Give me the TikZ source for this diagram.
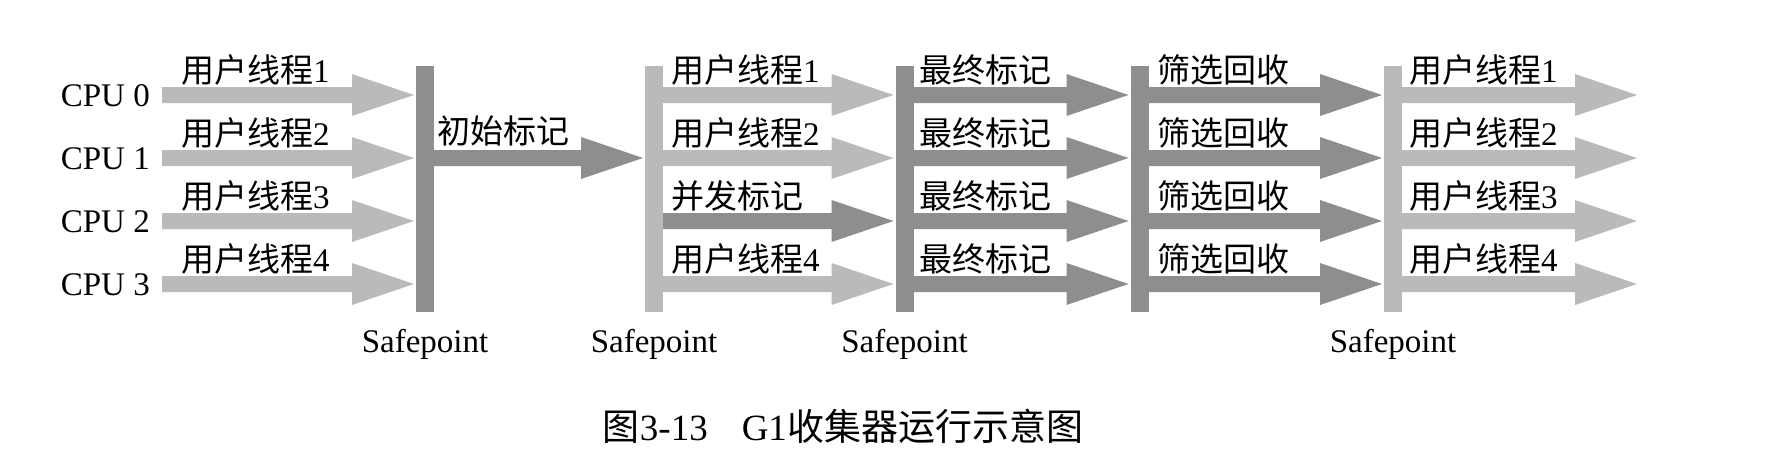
\documentclass[tikz,border=0pt]{standalone}
\usepackage{fontspec}
\setmainfont{Liberation Serif}
\newfontfamily\cjk{Noto Sans CJK SC}
\usetikzlibrary{calc}
\definecolor{lt}{RGB}{186,186,186}
\definecolor{dk}{RGB}{142,142,142}
% block arrow from point #1 to (just before) point #2, colour #3
\newcommand\blockarrow[3]{%
  \path[fill=#3] let \p1=(#1), \p2=(#2) in
    (\x1,\y1+8pt) -- (\x2-64pt,\y1+8pt) -- (\x2-64pt,\y1+21pt) -- (\x2-2pt,\y1)
    -- (\x2-64pt,\y1-21pt) -- (\x2-64pt,\y1-8pt) -- (\x1,\y1-8pt) -- cycle;}
\begin{document}
\begin{tikzpicture}[x=1pt,y=-1pt,
  bar/.style={minimum width=18pt,minimum height=246pt,inner sep=0pt,outer sep=0pt,draw=none},
  lbl/.style={anchor=base west,inner sep=0pt,font=\fontsize{33}{36}\selectfont},
  cpu/.style={anchor=base east,inner sep=0pt,font=\fontsize{33}{36}\selectfont},
  sp/.style={anchor=base,inner sep=0pt,yshift=-40pt,font=\fontsize{33}{36}\selectfont},
  captxt/.style={anchor=base,inner sep=0pt,font=\fontsize{37}{40}\selectfont}]
\useasboundingbox (0,0) rectangle (1768,452);
% rows
\coordinate (r0) at (0,95);
\coordinate (r1) at (0,158);
\coordinate (r2) at (0,221);
\coordinate (r3) at (0,284);
% safepoint bars
\node[bar,fill=dk] (b1) at (425,189) {};
\node[bar,fill=lt] (b2) at (654,189) {};
\node[bar,fill=dk] (b3) at (904.5,189) {};
\node[bar,fill=dk] (b4) at (1139.5,189) {};
\node[bar,fill=lt] (b5) at (1393,189) {};
% CPU labels
\node[cpu] (c0) at (150,106) {CPU 0};
\node[cpu] (c1) at (150,169) {CPU 1};
\node[cpu] (c2) at (150,232) {CPU 2};
\node[cpu] (c3) at (150,295) {CPU 3};
% arrow start / end points
\foreach \i in {0,...,3} {
  \coordinate (s\i) at (162,0 |- r\i);
  \coordinate (e\i) at (1639,0 |- r\i);
}
% group 1
\foreach \i in {0,...,3} {\blockarrow{s\i}{b1.west |- r\i}{lt}}
% initial mark
\blockarrow{b1.east |- r1}{b2.west |- r1}{dk}
% group 2
\blockarrow{b2.east |- r0}{b3.west |- r0}{lt}
\blockarrow{b2.east |- r1}{b3.west |- r1}{lt}
\blockarrow{b2.east |- r2}{b3.west |- r2}{dk}
\blockarrow{b2.east |- r3}{b3.west |- r3}{lt}
% group 3, 4, 5
\foreach \i in {0,...,3} {
  \blockarrow{b3.east |- r\i}{b4.west |- r\i}{dk}
  \blockarrow{b4.east |- r\i}{b5.west |- r\i}{dk}
  \blockarrow{b5.east |- r\i}{e\i}{lt}
}
% labels group 1
\foreach \i/\n in {0/1,1/2,2/3,3/4} {
  \node[lbl] (ua\i) at (181,0 |- r\i) [yshift=13pt] {{\cjk 用户线程}\n};
}
\node[lbl,xshift=3pt,yshift=15pt] (init) at (b1.east |- r1) {\cjk 初始标记};
% labels group 2
\node[lbl,xshift=8pt,yshift=13pt] (ub0) at (b2.east |- r0) {{\cjk 用户线程}1};
\node[lbl,xshift=8pt,yshift=13pt] (ub1) at (b2.east |- r1) {{\cjk 用户线程}2};
\node[lbl,xshift=8pt,yshift=13pt] (cm)  at (b2.east |- r2) {\cjk 并发标记};
\node[lbl,xshift=8pt,yshift=13pt] (ub3) at (b2.east |- r3) {{\cjk 用户线程}4};
% labels group 3, 4, 5
\foreach \i/\n in {0/1,1/2,2/3,3/4} {
  \node[lbl,xshift=6pt,yshift=13pt] (fm\i) at (b3.east |- r\i) {\cjk 最终标记};
  \node[lbl,xshift=9pt,yshift=13pt] (sr\i) at (b4.east |- r\i) {\cjk 筛选回收};
  \node[lbl,xshift=7pt,yshift=13pt] (uc\i) at (b5.east |- r\i) {{\cjk 用户线程}\n};
}
% safepoint labels
\node[sp] (sp1) at (b1.south) {Safepoint};
\node[sp] (sp2) at (b2.south) {Safepoint};
\node[sp] (sp3) at (b3.south) {Safepoint};
\node[sp] (sp5) at (b5.south) {Safepoint};
% caption
\node[captxt] (caption) at (843,440) {{\cjk 图}3-13\hspace{34pt}G1{\cjk 收集器运行示意图}};
\end{tikzpicture}
\end{document}
